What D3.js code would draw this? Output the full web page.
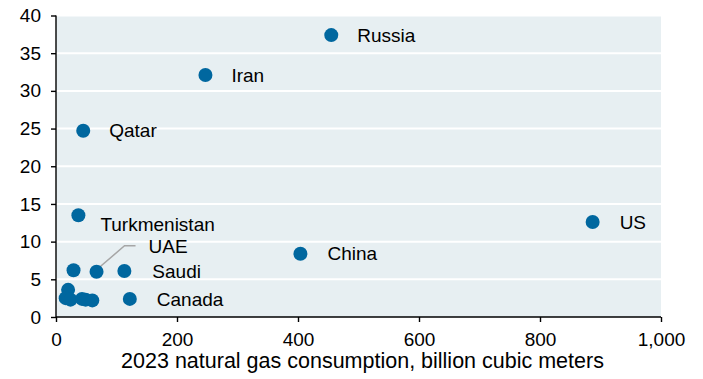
<!DOCTYPE html>
<html><head><meta charset="utf-8">
<script src="https://cdn.jsdelivr.net/npm/d3@7"></script>
<style>body{margin:0;background:#fff}svg{display:block;font-family:Arial,"Liberation Sans",sans-serif}</style>
</head><body><svg id="c" width="703" height="379"></svg>
<script>
const names = ["Russia","Iran","Qatar","Turkmenistan","US","China","UAE","Saudi","","Canada","","","","","",""];
const consumption = [455,247,45,37,887,404,67,113,29,122,20,16,24,43,49,60];
const reserves = [37.4,32.1,24.7,13.5,12.6,8.4,6.0,6.1,6.2,2.4,3.6,2.5,2.3,2.4,2.3,2.2];
const xTicks = [0,200,400,600,800,1000];
const yTicks = [0,5,10,15,20,25,30,35,40];
const labelOffsets = {Russia:[26,0],Iran:[26,0],Qatar:[26,0],Turkmenistan:[22,9.5],US:[27,0],China:[27,0],UAE:[52,-25],Saudi:[28,0],Canada:[27,0]};

const svg = d3.select("#c");
const x = d3.scaleLinear().domain([0,1000]).range([56,661]);
const y = d3.scaleLinear().domain([0,40]).range([317,15.5]);

svg.append("rect").attr("x",x(0)).attr("y",y(40)).attr("width",x(1000)-x(0)).attr("height",y(0)-y(40)).attr("fill","#e7eff2");
svg.append("g").selectAll("line").data(yTicks.filter(d=>d>0)).join("line")
  .attr("x1",x(0)).attr("x2",x(1000)).attr("y1",d=>y(d)).attr("y2",d=>y(d)).attr("stroke","#fff").attr("stroke-width",2);

const xa = svg.append("g").attr("transform",`translate(0,${y(0)})`)
  .call(d3.axisBottom(x).tickValues(xTicks).tickSize(5).tickPadding(10.5).tickFormat(d3.format(",")));
const ya = svg.append("g").attr("transform",`translate(${x(0)},0)`)
  .call(d3.axisLeft(y).tickValues(yTicks).tickSize(5).tickPadding(10));
[xa,ya].forEach(a=>{a.selectAll("text").attr("font-size",19).attr("fill","#000").attr("font-family","Arial, Liberation Sans, sans-serif");
  a.selectAll("line,path").attr("stroke","#000").attr("stroke-width",1.4);});
xa.select(".domain").attr("d",`M${x(0)},0H${x(1000)}`);
ya.select(".domain").attr("d",`M0,${y(0)}V${y(40)}`);

// leader line for UAE
const ui = names.indexOf("UAE");
const ux = x(consumption[ui]), uy = y(reserves[ui]);
svg.append("path").attr("d",`M${ux},${uy-2}L${ux+28},${uy-26}H${ux+39}`).attr("fill","none").attr("stroke","#a6a6a6").attr("stroke-width",1.5);

svg.append("g").selectAll("circle").data(consumption).join("circle")
  .attr("cx",(d)=>x(d)).attr("cy",(d,i)=>y(reserves[i])).attr("r",7).attr("fill","#00679f");

svg.append("g").selectAll("text").data(names.map((n,i)=>({n,i})).filter(d=>d.n)).join("text")
  .attr("x",d=>x(consumption[d.i])+labelOffsets[d.n][0])
  .attr("y",d=>y(reserves[d.i])+labelOffsets[d.n][1])
  .attr("dy","0.35em").attr("font-size",19).attr("fill","#000").text(d=>d.n);

svg.append("text").attr("x",362.5).attr("y",368).attr("text-anchor","middle").attr("font-size",21.5).text("2023 natural gas consumption, billion cubic meters");
</script></body></html>
